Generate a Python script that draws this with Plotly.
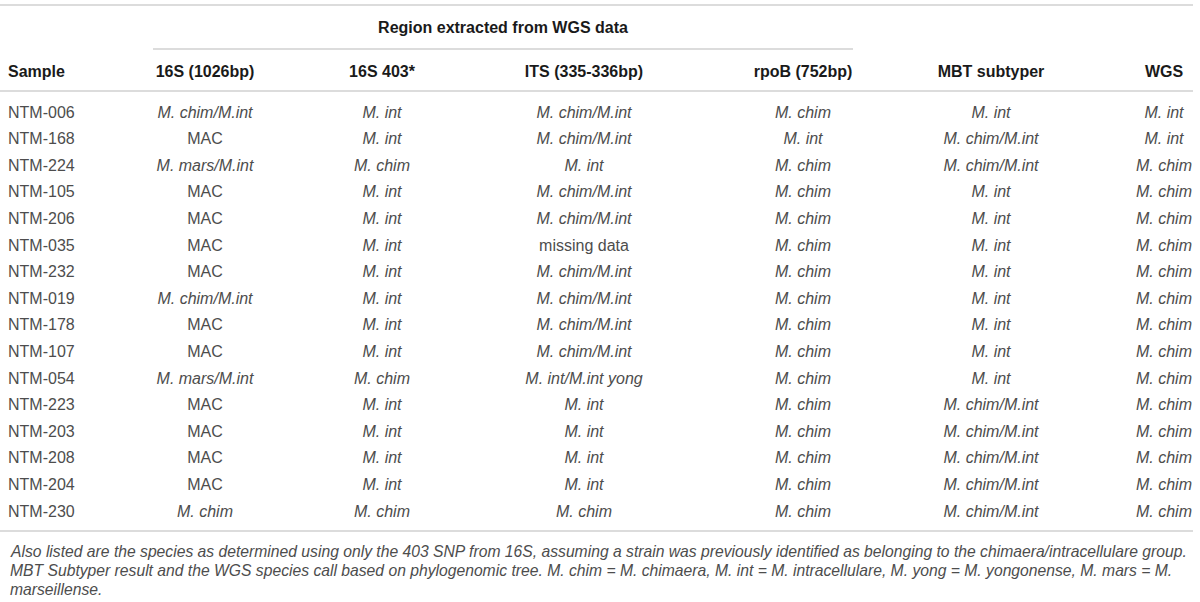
import plotly.graph_objects as go

# ------- table data -------
samples = ["NTM-006", "NTM-168", "NTM-224", "NTM-105", "NTM-206", "NTM-035", "NTM-232", "NTM-019",
           "NTM-178", "NTM-107", "NTM-054", "NTM-223", "NTM-203", "NTM-208", "NTM-204", "NTM-230"]
s16_1026 = ["M. chim/M.int", "MAC", "M. mars/M.int", "MAC", "MAC", "MAC", "MAC", "M. chim/M.int",
            "MAC", "MAC", "M. mars/M.int", "MAC", "MAC", "MAC", "MAC", "M. chim"]
s16_403 = ["M. int", "M. int", "M. chim", "M. int", "M. int", "M. int", "M. int", "M. int",
           "M. int", "M. int", "M. chim", "M. int", "M. int", "M. int", "M. int", "M. chim"]
its = ["M. chim/M.int", "M. chim/M.int", "M. int", "M. chim/M.int", "M. chim/M.int", "missing data",
       "M. chim/M.int", "M. chim/M.int", "M. chim/M.int", "M. chim/M.int", "M. int/M.int yong",
       "M. int", "M. int", "M. int", "M. int", "M. chim"]
rpob = ["M. chim", "M. int", "M. chim", "M. chim", "M. chim", "M. chim", "M. chim", "M. chim",
        "M. chim", "M. chim", "M. chim", "M. chim", "M. chim", "M. chim", "M. chim", "M. chim"]
mbt = ["M. int", "M. chim/M.int", "M. chim/M.int", "M. int", "M. int", "M. int", "M. int", "M. int",
       "M. int", "M. int", "M. int", "M. chim/M.int", "M. chim/M.int", "M. chim/M.int",
       "M. chim/M.int", "M. chim/M.int"]
wgs = ["M. int", "M. int", "M. chim", "M. chim", "M. chim", "M. chim", "M. chim", "M. chim",
       "M. chim", "M. chim", "M. chim", "M. chim", "M. chim", "M. chim", "M. chim", "M. chim"]

headers = ["Sample", "16S (1026bp)", "16S 403*", "ITS (335-336bp)", "rpoB (752bp)", "MBT subtyper", "WGS"]
group_header = "Region extracted from WGS data"
caption_lines = [
    "Also listed are the species as determined using only the 403 SNP from 16S, assuming a strain was "
    "previously identified as belonging to the chimaera/intracellulare group.",
    "MBT Subtyper result and the WGS species call based on phylogenomic tree. M. chim = M. chimaera, "
    "M. int = M. intracellulare, M. yong = M. yongonense, M. mars = M.",
    "marseillense.",
]

columns = [s16_1026, s16_403, its, rpob, mbt, wgs]
upright = {"MAC", "missing data"}  # everything else is a species name -> italic

# ------- layout (pixels on a 1200 wide x axis, rows as y units) -------
W, H = 1200, 602
col_x = [205, 382, 584, 803, 991, 1164]
row0_px, row_step = 113.5, 26.6
y_top = -row0_px / row_step
y_bot = (H - row0_px) / row_step
def px(y):
    return (y - row0_px) / row_step

body_font = dict(family="Liberation Sans", size=16, color="#4d4d4d")
head_font = dict(family="Liberation Sans", size=16, color="#1a1a1a")
rows = list(range(len(samples)))

fig = go.Figure()

fig.add_trace(go.Scatter(x=[8] * len(samples), y=rows, mode="text", text=samples,
                         textposition="middle right", textfont=body_font, hoverinfo="skip"))
for cx, col in zip(col_x, columns):
    txt = [v if v in upright else "<i>%s</i>" % v for v in col]
    fig.add_trace(go.Scatter(x=[cx] * len(col), y=rows, mode="text", text=txt,
                             textposition="middle center", textfont=body_font, hoverinfo="skip"))

# header row
fig.add_trace(go.Scatter(x=[8], y=[px(73)], mode="text", text=["<b>%s</b>" % headers[0]],
                         textposition="middle right", textfont=head_font, hoverinfo="skip"))
fig.add_trace(go.Scatter(x=col_x, y=[px(73)] * len(col_x), mode="text",
                         text=["<b>%s</b>" % h for h in headers[1:]],
                         textposition="middle center", textfont=head_font, hoverinfo="skip"))
fig.add_trace(go.Scatter(x=[503], y=[px(29)], mode="text", text=["<b>%s</b>" % group_header],
                         textposition="middle center", textfont=head_font, hoverinfo="skip"))

# rules
line_style = dict(color="#dcdcdc", width=2)
for x0, x1, yp in [(0, 1193, 5), (153, 853, 49), (0, 1193, 91), (0, 1193, 531)]:
    fig.add_shape(type="line", xref="x", yref="y", x0=x0, x1=x1, y0=px(yp), y1=px(yp), line=line_style)

# footnote
for yp, line in zip([551, 570, 589], caption_lines):
    fig.add_annotation(x=8, y=px(yp), xref="x", yref="y", text="<i>%s</i>" % line, showarrow=False,
                       xanchor="left", yanchor="middle", align="left",
                       font=dict(family="Liberation Sans", size=15.7, color="#4d4d4d"))

fig.update_layout(width=W, height=H, margin=dict(l=0, r=0, t=0, b=0),
                  plot_bgcolor="white", paper_bgcolor="white", showlegend=False)
fig.update_xaxes(range=[0, W], visible=False, fixedrange=True)
fig.update_yaxes(range=[y_bot, y_top], visible=False, fixedrange=True)

fig.write_html("out.html", config={"displayModeBar": False},
               post_script="document.body.style.margin='0';")
